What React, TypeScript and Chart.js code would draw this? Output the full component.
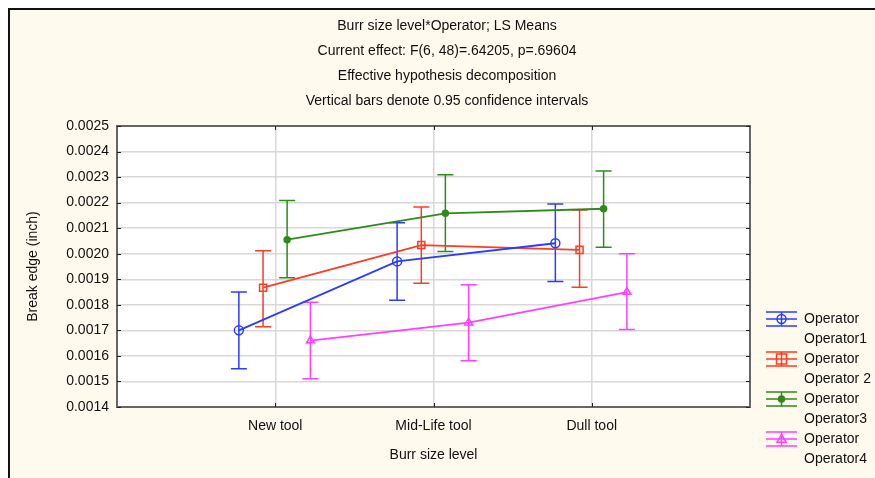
import React, { useEffect, useRef } from "react";
import { Chart, registerables } from "chart.js";

Chart.register(...registerables);

const titleLines = [
  "Burr size level*Operator; LS Means",
  "Current effect: F(6, 48)=.64205, p=.69604",
  "Effective hypothesis decomposition",
  "Vertical bars denote 0.95 confidence intervals",
];
const categories = ["New tool", "Mid-Life tool", "Dull tool"];
const factorName = "Operator";
const seriesNames = ["Operator1", "Operator 2", "Operator3", "Operator4"];
const xTitle = "Burr size level";
const yTitle = "Break edge (inch)";
const yTickValues = [0.0014, 0.0015, 0.0016, 0.0017, 0.0018, 0.0019, 0.002, 0.0021, 0.0022, 0.0023, 0.0024, 0.0025];

const op1Mean = [0.0017, 0.00197, 0.002041];
const op1Low = [0.00155, 0.001818, 0.001891];
const op1High = [0.00185, 0.002121, 0.002195];

const op2Mean = [0.001867, 0.002034, 0.002015];
const op2Low = [0.001714, 0.001884, 0.001869];
const op2High = [0.002012, 0.002183, 0.002171];

const op3Mean = [0.002055, 0.002158, 0.002176];
const op3Low = [0.001906, 0.002009, 0.002025];
const op3High = [0.002208, 0.002309, 0.002324];

const op4Mean = [0.00166, 0.00173, 0.00185];
const op4Low = [0.001511, 0.001581, 0.001703];
const op4High = [0.00181, 0.001879, 0.002];

const means = [op1Mean, op2Mean, op3Mean, op4Mean];
const lows = [op1Low, op2Low, op3Low, op4Low];
const highs = [op1High, op2High, op3High, op4High];

// styling
const colors = ["#2a3cff", "#ff3b26", "#2f8a1c", "#ff40ff"];
const markerStyles = ["circle", "rect", "circle", "triangle"];
const markerRadius = [4.5, 5, 3, 4.5];
const markerFill = ["rgba(0,0,0,0)", "rgba(0,0,0,0)", "#2f8a1c", "rgba(0,0,0,0)"];
const dodge = [-0.23, -0.077, 0.075, 0.222];
const FONT = "'Liberation Sans', Arial, sans-serif";
const TEXT = "#111111";

function drawMarker(ctx: CanvasRenderingContext2D, i: number, x: number, y: number) {
  ctx.save();
  ctx.strokeStyle = colors[i];
  ctx.fillStyle = markerFill[i];
  ctx.lineWidth = 1.5;
  const r = markerRadius[i];
  ctx.beginPath();
  if (markerStyles[i] === "circle") ctx.arc(x, y, r, 0, Math.PI * 2);
  else if (markerStyles[i] === "rect") ctx.rect(x - r, y - r, 2 * r, 2 * r);
  else {
    ctx.moveTo(x, y - r);
    ctx.lineTo(x + r, y + r * 0.7);
    ctx.lineTo(x - r, y + r * 0.7);
    ctx.closePath();
  }
  ctx.fill();
  ctx.stroke();
  ctx.restore();
}

const decorPlugin = {
  id: "decor",
  beforeDraw(chart: any) {
    const { ctx, width, height, chartArea: a } = chart;
    ctx.save();
    ctx.fillStyle = "#fffaee";
    ctx.fillRect(0, 0, width, height);
    ctx.fillStyle = "#ffffff";
    ctx.fillRect(a.left, a.top, a.right - a.left, a.bottom - a.top);
    ctx.strokeStyle = "#111111";
    ctx.lineWidth = 2;
    ctx.beginPath();
    ctx.moveTo(1, height);
    ctx.lineTo(1, 1);
    ctx.lineTo(width, 1);
    ctx.stroke();
    ctx.restore();
  },
  beforeDatasetsDraw(chart: any) {
    const { ctx } = chart;
    const xs = chart.scales.x;
    const ys = chart.scales.y;
    ctx.save();
    ctx.lineWidth = 1.5;
    means.forEach((_, i) => {
      ctx.strokeStyle = colors[i];
      categories.forEach((__, j) => {
        const x = xs.getPixelForValue(j + 1 + dodge[i]);
        const y1 = ys.getPixelForValue(lows[i][j]);
        const y2 = ys.getPixelForValue(highs[i][j]);
        ctx.beginPath();
        ctx.moveTo(x, y1);
        ctx.lineTo(x, y2);
        ctx.moveTo(x - 8, y1);
        ctx.lineTo(x + 8, y1);
        ctx.moveTo(x - 8, y2);
        ctx.lineTo(x + 8, y2);
        ctx.stroke();
      });
    });
    ctx.restore();
  },
  afterDraw(chart: any) {
    const { ctx, chartArea: a } = chart;
    const xs = chart.scales.x;
    const ys = chart.scales.y;
    ctx.save();
    // plot border
    ctx.strokeStyle = "#666666";
    ctx.lineWidth = 2;
    ctx.strokeRect(a.left, a.top, a.right - a.left, a.bottom - a.top);
    // inner ticks
    ctx.strokeStyle = "#222222";
    ctx.lineWidth = 1;
    ctx.beginPath();
    yTickValues.forEach((v) => {
      const y = Math.round(ys.getPixelForValue(v)) + 0.5;
      ctx.moveTo(a.left, y);
      ctx.lineTo(a.left + 4, y);
      ctx.moveTo(a.right, y);
      ctx.lineTo(a.right - 4, y);
    });
    categories.forEach((_, j) => {
      const x = Math.round(xs.getPixelForValue(j + 1)) + 0.5;
      ctx.moveTo(x, a.bottom);
      ctx.lineTo(x, a.bottom - 4);
      ctx.moveTo(x, a.top);
      ctx.lineTo(x, a.top + 4);
    });
    ctx.stroke();

    // titles
    ctx.fillStyle = TEXT;
    ctx.font = `14px ${FONT}`;
    ctx.textAlign = "center";
    ctx.textBaseline = "middle";
    titleLines.forEach((t, k) => ctx.fillText(t, 439, 18 + k * 25));
    ctx.fillText(xTitle, (a.left + a.right) / 2, 447);
    ctx.save();
    ctx.translate(25, (a.top + a.bottom) / 2);
    ctx.rotate(-Math.PI / 2);
    ctx.fillText(yTitle, 0, 0);
    ctx.restore();

    // legend
    ctx.textAlign = "left";
    seriesNames.forEach((name, i) => {
      const cy = 311 + i * 40;
      const x0 = 758;
      const x1 = 789;
      const cx = (x0 + x1) / 2;
      ctx.strokeStyle = colors[i];
      ctx.lineWidth = 1.5;
      ctx.beginPath();
      ctx.moveTo(x0, cy - 7);
      ctx.lineTo(x1, cy - 7);
      ctx.moveTo(x0, cy);
      ctx.lineTo(x1, cy);
      ctx.moveTo(x0, cy + 7);
      ctx.lineTo(x1, cy + 7);
      ctx.moveTo(cx, cy - 7);
      ctx.lineTo(cx, cy + 7);
      ctx.stroke();
      drawMarker(ctx, i, cx, cy);
      ctx.fillStyle = TEXT;
      ctx.fillText(factorName, 796, cy);
      ctx.fillText(name, 796, cy + 20);
    });
    ctx.restore();
  },
};

export default function App() {
  const ref = useRef<HTMLCanvasElement>(null);
  useEffect(() => {
    if (!ref.current) return;
    const datasets = means.map((m, i) => ({
      label: `${factorName} ${seriesNames[i]}`,
      data: m.map((v, j) => ({ x: j + 1 + dodge[i], y: v })),
      showLine: true,
      borderColor: colors[i],
      backgroundColor: markerFill[i],
      borderWidth: 1.8,
      pointStyle: markerStyles[i] as any,
      pointRadius: markerRadius[i],
      pointBorderWidth: 1.5,
      pointBorderColor: colors[i],
      pointBackgroundColor: markerFill[i],
    }));
    const chart = new Chart(ref.current, {
      type: "scatter",
      data: { datasets },
      options: {
        animation: false,
        responsive: false,
        devicePixelRatio: 1,
        layout: { padding: { top: 118, right: 125, bottom: 11, left: 0 } },
        plugins: { legend: { display: false }, title: { display: false }, tooltip: { enabled: false } },
        scales: {
          x: {
            type: "linear",
            min: 0,
            max: 4,
            afterBuildTicks: (s: any) => {
              s.ticks = categories.map((_, j) => ({ value: j + 1 }));
            },
            afterFit: (s: any) => {
              s.height = 60;
            },
            ticks: {
              autoSkip: false,
              maxRotation: 0,
              padding: 11,
              color: TEXT,
              font: { family: FONT, size: 14 },
              callback: (v: any) => categories[Math.round(v) - 1] ?? "",
            },
            grid: { color: "#d8d8d8", lineWidth: 1.5, drawTicks: false },
            border: { display: false },
          },
          y: {
            type: "linear",
            min: 0.0014,
            max: 0.0025,
            afterBuildTicks: (s: any) => {
              s.ticks = yTickValues.map((v) => ({ value: v }));
            },
            afterFit: (s: any) => {
              s.width = 109;
            },
            ticks: {
              padding: 8,
              color: TEXT,
              font: { family: FONT, size: 14 },
              callback: (v: any) => Number(v).toFixed(4),
            },
            grid: { color: "#d8d8d8", lineWidth: 1.5, drawTicks: false },
            border: { display: false },
          },
        },
      },
      plugins: [decorPlugin],
    });
    return () => chart.destroy();
  }, []);
  return (
    <>
      <style>{"html,body{overflow:hidden;}"}</style>
      <canvas
        ref={ref}
        width={867}
        height={470}
        style={{ display: "block", position: "fixed", left: 8, top: 8 }}
      />
    </>
  );
}
